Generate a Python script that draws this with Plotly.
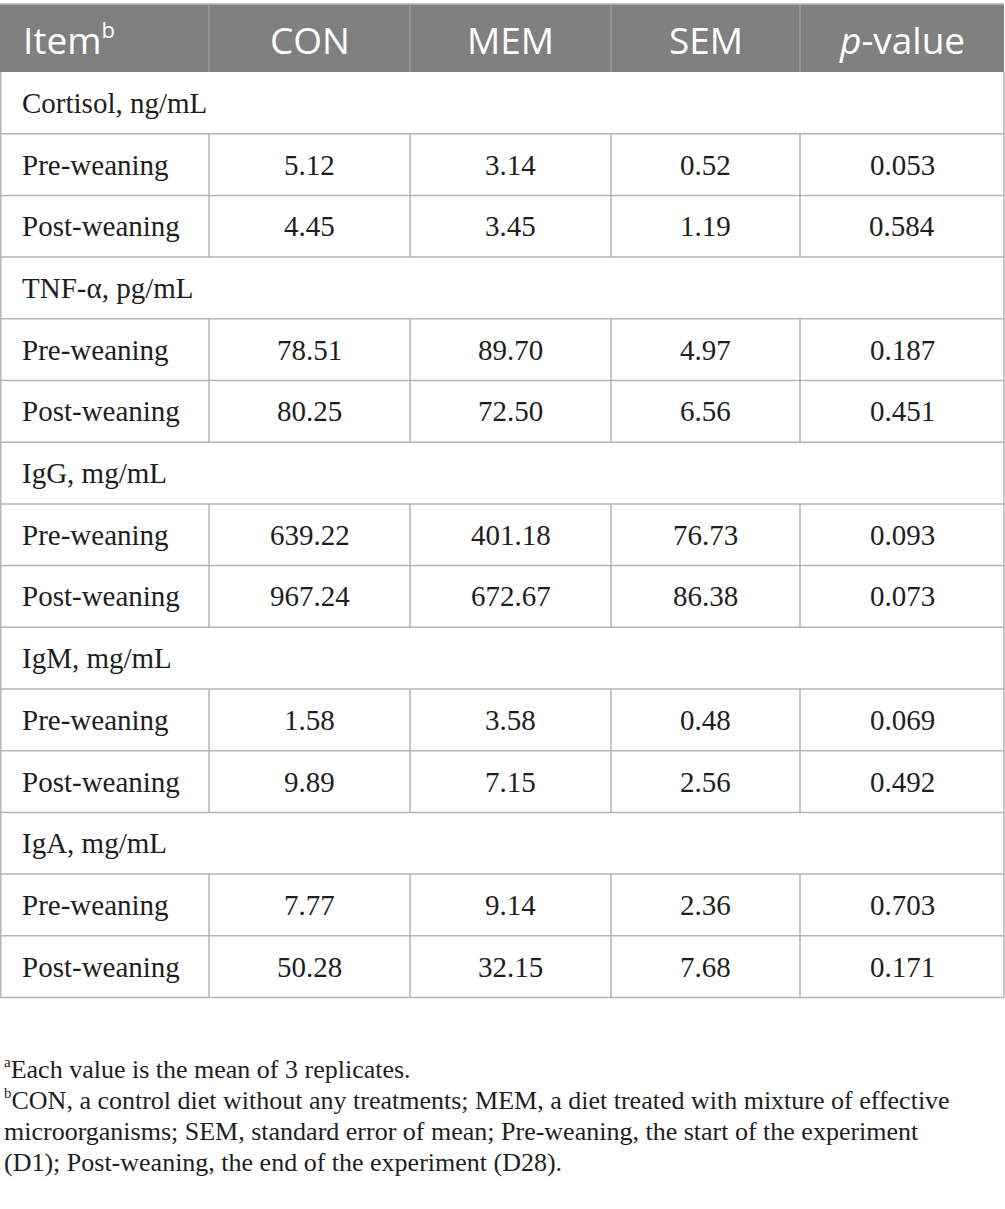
import plotly.graph_objects as go

# Datos de la tabla
columnas = ['Item<sup><span style="font-size:22px">b</span></sup>', 'CON', 'MEM', 'SEM', '<i>p</i>-value']
grupos = ['Cortisol, ng/mL', 'TNF-α, pg/mL', 'IgG, mg/mL', 'IgM, mg/mL', 'IgA, mg/mL']
periodos = ['Pre-weaning', 'Post-weaning']
con = ['5.12', '4.45', '78.51', '80.25', '639.22', '967.24', '1.58', '9.89', '7.77', '50.28']
mem = ['3.14', '3.45', '89.70', '72.50', '401.18', '672.67', '3.58', '7.15', '9.14', '32.15']
sem = ['0.52', '1.19', '4.97', '6.56', '76.73', '86.38', '0.48', '2.56', '2.36', '7.68']
pval = ['0.053', '0.584', '0.187', '0.451', '0.093', '0.073', '0.069', '0.492', '0.703', '0.171']
notas = ['<sup><span style="font-size:15px">a</span></sup>Each value is the mean of 3 replicates.',
         '<sup><span style="font-size:15px">b</span></sup>CON, a control diet without any treatments; MEM, a diet treated with mixture of effective',
         'microorganisms; SEM, standard error of mean; Pre-weaning, the start of the experiment',
         '(D1); Post-weaning, the end of the experiment (D28).']

# Geometría (en píxeles)
W, H = 1005, 1209
bordes_x = [0, 209, 410, 611, 800, 1004]
y_cab0, y_cab1 = 4, 72
alto_fila = 61.7
gris_cab = '#808080'
gris_linea = '#b5b5b5'
serif = 'Liberation Serif'
sans = 'Open Sans'
negro = '#1e1e1e'

fig = go.Figure()
shapes = []
anot = []

# Cabecera
shapes.append(dict(type='rect', x0=0, x1=bordes_x[-1], y0=y_cab0, y1=y_cab1,
                   fillcolor=gris_cab, line=dict(width=0), layer='below'))
for xb in bordes_x[1:-1]:
    shapes.append(dict(type='line', x0=xb, x1=xb, y0=y_cab0, y1=y_cab1,
                       line=dict(color='#a0a0a0', width=1.2)))
for i, c in enumerate(columnas):
    if i == 0:
        anot.append(dict(x=bordes_x[0] + 21, y=(y_cab0 + y_cab1) / 2 + 1, text=c, xanchor='left',
                         showarrow=False, font=dict(family=sans, size=37, color='white')))
    else:
        anot.append(dict(x=(bordes_x[i] + bordes_x[i + 1]) / 2, y=(y_cab0 + y_cab1) / 2 + 1, text=c,
                         showarrow=False, font=dict(family=sans, size=37, color='white')))

# Filas
fila = 0
for g, grupo in enumerate(grupos):
    y0 = y_cab1 + fila * alto_fila
    anot.append(dict(x=20, y=y0 + alto_fila / 2, text=grupo, xanchor='left', showarrow=False,
                     font=dict(family=serif, size=29, color=negro)))
    fila += 1
    for p, periodo in enumerate(periodos):
        k = 2 * g + p
        y0 = y_cab1 + fila * alto_fila
        y1 = y0 + alto_fila
        for xb in bordes_x[1:-1]:
            shapes.append(dict(type='line', x0=xb, x1=xb, y0=y0, y1=y1,
                               line=dict(color=gris_linea, width=1.5)))
        valores = [periodo, con[k], mem[k], sem[k], pval[k]]
        for i, v in enumerate(valores):
            if i == 0:
                anot.append(dict(x=20, y=(y0 + y1) / 2, text=v, xanchor='left', showarrow=False,
                                 font=dict(family=serif, size=29, color=negro)))
            else:
                anot.append(dict(x=(bordes_x[i] + bordes_x[i + 1]) / 2, y=(y0 + y1) / 2, text=v,
                                 showarrow=False, font=dict(family=serif, size=29, color=negro)))
        fila += 1

y_fin = y_cab1 + fila * alto_fila
# Líneas horizontales y bordes exteriores
for r in range(1, fila + 1):
    yl = y_cab1 + r * alto_fila
    shapes.append(dict(type='line', x0=0, x1=bordes_x[-1], y0=yl, y1=yl,
                       line=dict(color=gris_linea, width=1.5)))
for xb in [bordes_x[0] + 0.75, bordes_x[-1]]:
    shapes.append(dict(type='line', x0=xb, x1=xb, y0=y_cab1, y1=y_fin,
                       line=dict(color=gris_linea, width=1.5)))
shapes.append(dict(type='line', x0=0, x1=bordes_x[-1], y0=y_cab0, y1=y_cab0,
                   line=dict(color=gris_linea, width=1.5)))

# Notas al pie
y_notas = [1069, 1100, 1131, 1162]
for n, yn in zip(notas, y_notas):
    anot.append(dict(x=2, y=yn, text=n, xanchor='left', showarrow=False,
                     font=dict(family=serif, size=26, color=negro)))

fig.update_layout(
    width=W, height=H,
    margin=dict(l=0, r=0, t=0, b=0),
    paper_bgcolor='white', plot_bgcolor='white',
    xaxis=dict(range=[0, W], visible=False, fixedrange=True),
    yaxis=dict(range=[H, 0], visible=False, fixedrange=True),
    shapes=shapes, annotations=anot, showlegend=False
)

# Quitar el margen del body para que la tabla quede alineada con la ventana
fig.write_html('out.html', config={'displayModeBar': False},
               post_script="document.body.style.margin='0';document.body.style.overflow='hidden';")
